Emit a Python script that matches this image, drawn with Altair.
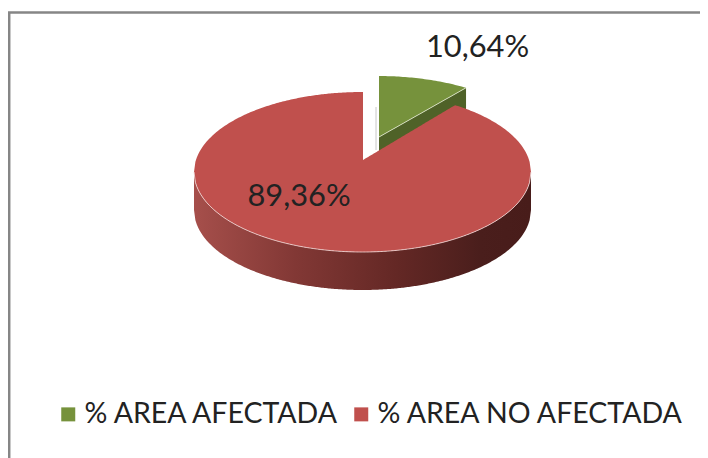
import math
import altair as alt
import pandas as pd

categories = ["% AREA AFECTADA", "% AREA NO AFECTADA"]
values = [10.64, 89.36]
labels = ["10,64%", "89,36%"]
colors = ["#76923c", "#c0504d"]

W, H = 692, 450
CX, CY, RX, RY = 354.5, 164.0, 168.5, 80.0
DEPTH = 38.0
SWEEP = 33.3
GREEN_SWEEP = 31.5
GX, GY = 370.0, 148.0
GREEN_APEX = (371.0, 129.0)
RED_APEX = (355.0, 152.0)
FONT = "Lato"

def ell(cx, cy, a):
    r = math.radians(a)
    return cx + RX * math.sin(r), cy - RY * math.cos(r)

def red_lower(x):
    d = max(1 - ((x - CX) / RX) ** 2, 0)
    return CY + RY * math.sqrt(d)
def red_upper_ell(x):
    d = max(1 - ((x - CX) / RX) ** 2, 0)
    return CY - RY * math.sqrt(d)

end_x, end_y = ell(CX, CY, SWEEP)
xs = [CX - RX + (2 * RX) * k / 240 for k in range(241)]
rows = []
i = 0
for x in xs:
    if x < RED_APEX[0]:
        rows.append(dict(x=x, y=red_upper_ell(x), yb=red_lower(x), i=i)); i += 1
rows.append(dict(x=RED_APEX[0], y=red_upper_ell(RED_APEX[0]), yb=red_lower(RED_APEX[0]), i=i)); i += 1
rows.append(dict(x=RED_APEX[0] + 0.01, y=RED_APEX[1], yb=red_lower(RED_APEX[0]), i=i)); i += 1
for x in xs:
    if x > RED_APEX[0] + 0.01:
        if x < end_x:
            t = (x - RED_APEX[0]) / (end_x - RED_APEX[0])
            u = RED_APEX[1] + t * (end_y - RED_APEX[1])
        else:
            u = red_upper_ell(x)
        rows.append(dict(x=x, y=u, yb=red_lower(x), i=i)); i += 1
red_top = pd.DataFrame(rows).assign(cat=categories[1])

red_side = pd.DataFrame([dict(x=x, y=red_lower(x), yb=red_lower(x) + DEPTH, i=k) for k, x in enumerate(xs)])

gx_end, gy_end = ell(GX, GY, GREEN_SWEEP)
g_rows = []
n = 40
start_x = GREEN_APEX[0]
for k in range(n + 1):
    x = start_x + (gx_end - start_x) * k / n
    d = max(1 - ((x - GX) / RX) ** 2, 0)
    t = (x - start_x) / (gx_end - start_x)
    g_rows.append(dict(x=x, y=GY - RY * math.sqrt(d),
                       yb=GREEN_APEX[1] + t * (gy_end - GREEN_APEX[1]), i=k))
green_top = pd.DataFrame(g_rows).assign(cat=categories[0])
green_side = pd.DataFrame([dict(x=r["x"], y=r["yb"], yb=r["yb"] + DEPTH, i=r["i"]) for r in g_rows])

X = alt.X("x:Q", scale=alt.Scale(domain=[0, W], range=[0, W], nice=False, zero=False), axis=None)
Y = alt.Y("y:Q", scale=alt.Scale(domain=[0, H], range=[0, H], nice=False, zero=False), axis=None)
Y2 = alt.Y2(field="yb")
ORD = alt.Order("i:Q")

color = alt.Color("cat:N", scale=alt.Scale(domain=categories, range=colors),
                  legend=alt.Legend(title=None, orient="none", legendX=46, legendY=392,
                                    direction="horizontal", columns=2, symbolType="square",
                                    symbolSize=196, symbolStrokeWidth=0, labelFont=FONT,
                                    labelFontSize=28.5, labelColor="#222222", labelLimit=400,
                                    labelOffset=2, columnPadding=7, symbolOpacity=1))

side_grad = alt.Gradient(gradient="linear", x1=0, x2=1, y1=0, y2=0, stops=[
    alt.GradientStop(offset=0, color="#a64f4b"),
    alt.GradientStop(offset=0.3, color="#823835"),
    alt.GradientStop(offset=0.6, color="#642825"),
    alt.GradientStop(offset=0.85, color="#4a1e1c"),
    alt.GradientStop(offset=1, color="#481c1a"),
])

g_side = alt.Chart(green_side).mark_area(color="#4f6228", orient="vertical").encode(x=X, y=Y, y2=Y2)
g_top = alt.Chart(green_top).mark_area(orient="vertical").encode(x=X, y=Y, y2=Y2, color=color)
r_side = alt.Chart(red_side).mark_area(color=side_grad, orient="vertical").encode(x=X, y=Y, y2=Y2)
r_top = alt.Chart(red_top).mark_area(orient="vertical").encode(x=X, y=Y, y2=Y2, color=color)

front_edge = alt.Chart(red_side).mark_line(color="#f2dcdb", strokeWidth=1, opacity=0.8).encode(x=X, y=Y, order=ORD)
g_edge = alt.Chart(pd.DataFrame({"x": [GREEN_APEX[0], gx_end], "y": [GREEN_APEX[1], gy_end], "i": [0, 1]})).mark_line(
    color="#e3ead2", strokeWidth=1, opacity=0.8).encode(x=X, y=Y, order=ORD)
shadow = alt.Chart(pd.DataFrame({"x": [368.0, 368.0], "y": [99.0, 142.0], "i": [0, 1]})).mark_line(
    color="#c8c8c8", strokeWidth=1).encode(x=X, y=Y, order=ORD)

frame = alt.Chart(pd.DataFrame({"x": [1.2, 1.2, 692.0], "y": [450.0, 4.5, 4.5], "i": [0, 1, 2]})).mark_line(
    color="#868686", strokeWidth=2.5).encode(x=X, y=Y, order=ORD)

text_df = pd.DataFrame({"x": [469.5, 291.0], "y": [40.0, 189.0], "t": labels})
texts = alt.Chart(text_df).mark_text(font=FONT, fontSize=30.8, color="#222222", align="center", baseline="middle").encode(
    x=X, y=Y, text="t:N")

chart = alt.layer(
    frame, shadow, g_side, g_top, g_edge, r_side, r_top, front_edge, texts
).properties(width=W, height=H, padding=0, autosize=alt.AutoSizeParams(type="none"), background="white"
).configure_view(stroke=None)

chart.save("out.html", embed_options={"renderer": "svg", "actions": False})
